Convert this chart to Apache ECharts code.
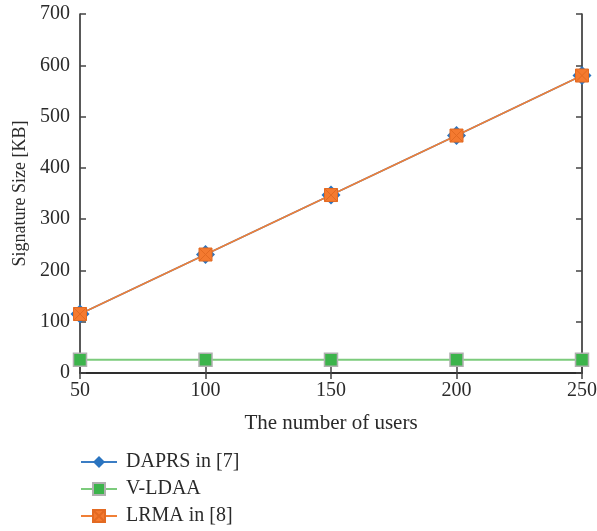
<!DOCTYPE html>
<html>
<head>
<meta charset="utf-8">
<script src="https://cdn.jsdelivr.net/npm/echarts@6/dist/echarts.min.js"></script>
<style>html,body{margin:0;padding:0;background:#fff;}#c{width:597px;height:531px;}</style>
</head>
<body>
<div id="c"></div>
<script>
var users = [50, 100, 150, 200, 250];
var daprs = [115, 231, 347, 463, 580];
var vldaa = [26, 26, 26, 26, 26];
var lrma = [115, 231, 347, 463, 580];
var seriesNames = ['DAPRS in [7]', 'V-LDAA', 'LRMA in [8]'];

function pairs(vals) { return users.map(function (u, i) { return [u, vals[i]]; }); }

var font = 'Liberation Serif';
var fs = 20;
var txt = '#2a2a2a';
var axisLine = { show: true, lineStyle: { color: '#222', width: 1.5 } };
var tick = { show: true, inside: true, length: 6, lineStyle: { color: '#444', width: 1.5 } };
var chart = echarts.init(document.getElementById('c'));
chart.setOption({
  animation: false,
  textStyle: { fontFamily: font },
  grid: { left: 80, right: 15, top: 14, bottom: 158, containLabel: false, outerBoundsMode: 'none' },
  legend: {
    orient: 'vertical', left: 80, top: 452, padding: 0, itemGap: 7, itemWidth: 36, itemHeight: 15,
    height: 79,
    textStyle: { fontFamily: font, fontSize: fs, color: txt, padding: [0, 0, 0, 4] },
    data: seriesNames
  },
  xAxis: [{
    type: 'value', min: 50, max: 250, interval: 50,
    name: 'The number of users', nameLocation: 'middle', nameGap: 40,
    nameTextStyle: { fontFamily: font, fontSize: 21, color: txt },
    axisLine: axisLine, axisTick: tick, splitLine: { show: false },
    axisLabel: { fontFamily: font, fontSize: fs, color: txt, margin: 8 }
  }, {
    type: 'value', position: 'top', min: 50, max: 250, interval: 50,
    axisLine: axisLine, axisTick: tick, splitLine: { show: false }, axisLabel: { show: false }
  }],
  yAxis: [{
    type: 'value', min: 0, max: 700, interval: 100,
    name: 'Signature Size [KB]', nameLocation: 'middle', nameGap: 50,
    nameTextStyle: { fontFamily: font, fontSize: 18, color: txt },
    axisLine: axisLine, axisTick: tick, splitLine: { show: false },
    axisLabel: { fontFamily: font, fontSize: fs, color: txt, margin: 10 }
  }, {
    type: 'value', position: 'right', min: 0, max: 700, interval: 100,
    axisLine: axisLine, axisTick: tick, splitLine: { show: false }, axisLabel: { show: false }
  }],
  series: [{
    name: seriesNames[0], type: 'line', data: pairs(daprs),
    symbol: 'diamond', symbolSize: 19, showAllSymbol: true,
    lineStyle: { color: '#3b7dc4', width: 1.5 },
    itemStyle: { color: '#2a74c0', borderColor: '#2a74c0', borderWidth: 0 }
  }, {
    name: seriesNames[1], type: 'line', data: pairs(vldaa),
    symbol: 'rect', symbolSize: 13,
    lineStyle: { color: '#7ccb7c', width: 2 },
    itemStyle: { color: '#3cb44b', borderColor: '#b0b0b0', borderWidth: 1.5 }
  }, {
    name: seriesNames[2], type: 'line', data: pairs(lrma),
    symbol: 'path://M0,0L10,0L10,10L0,10Z M0,0L10,10 M10,0L0,10', symbolSize: 13,
    lineStyle: { color: '#f07f36', width: 1.5 },
    itemStyle: { color: '#f47a30', borderColor: '#e36a22', borderWidth: 1 }
  }]
});
</script>
</body>
</html>
